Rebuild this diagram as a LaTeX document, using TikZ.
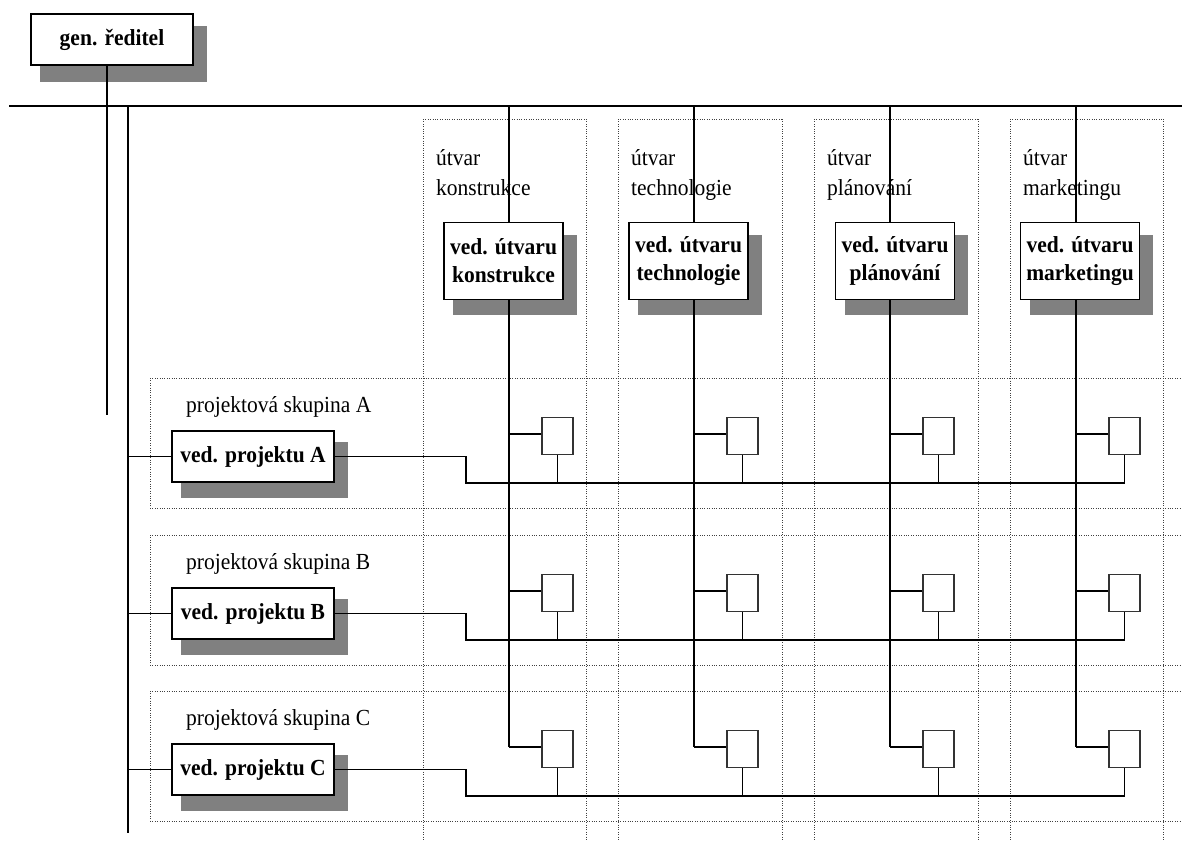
\documentclass[tikz,border=0pt]{standalone}
\usepackage{fontspec}
\setmainfont{Liberation Serif}[FakeStretch=0.935]
\usetikzlibrary{backgrounds}
\begin{document}
\begin{tikzpicture}[x=1pt,y=-1pt,
  box/.style={draw=black, line width=1.6pt, fill=white, inner sep=0pt, align=center,
    font=\bfseries\fontsize{23}{28}\selectfont},
  sqbox/.style={draw=black!80, line width=1.6pt, fill=white, inner sep=0pt,
    minimum width=31pt, minimum height=37pt},
  conn/.style={line width=1.5pt, black},
  dotln/.style={line width=1pt, dash pattern=on 1pt off 1.4pt, black!75},
  lab/.style={anchor=base west, inner sep=0pt, font=\fontsize{23}{30}\selectfont},
  shadowfill/.style={fill=black!50}]
\useasboundingbox (0,0) rectangle (1182,841);

% general director
\node[box, minimum width=162pt, minimum height=51pt] (gen) at (112,39.5) {gen. ředitel};
\coordinate (genx) at (107,415);
\coordinate (hl) at (9,106);
\coordinate (hr) at (1182,106);
\coordinate (spt) at (128,106);
\coordinate (spb) at (128,833);
\coordinate (bot) at (128,841);
\draw[conn] (gen.south -| genx) -- (genx);
\draw[conn] (hl) -- (hr);
\draw[conn] (spt) -- (spb);

% departments
\foreach \c/\L/\bx/\xa/\xb/\nm in {1/509/503.5/423/586/konstrukce,2/694/688.5/618/782/technologie,3/890/895/814/978/plánování,4/1076/1080/1010/1163/marketingu}{
  \node[box, minimum width=119pt, minimum height=77pt] (d\c) at (\bx,261) {ved. útvaru\\\nm};
  \node[lab] (ua\c) at (\xa+13,165) {útvar};
  \node[lab] (ub\c) at (\xa+13,195) {\nm};
  \coordinate (top\c) at (\L,106);
  \coordinate (cl\c) at (\xa,119);
  \coordinate (cq\c) at (\xb,119);
  \draw[conn] (top\c) -- (top\c |- d\c.north);
}

% project groups
\foreach \g/\T in {A/378,B/535,C/691}{
  \node[box, minimum width=162pt, minimum height=51pt] (p\g) at (253,\T+78.5) {ved. projektu \g};
  \node[lab] (pl\g) at (186,\T+34) {projektová skupina \g};
  \coordinate (j\g) at (466,\T+105);
  \coordinate (gt\g) at (150,\T);
  \coordinate (gb\g) at (150,\T+130);
  \foreach \c/\L in {1/509,2/694,3/890,4/1076}{
    \node[sqbox] (s\g\c) at (\L+48.5,\T+58) {};
    \draw[conn] ([yshift=2]s\g\c.west) -- ([yshift=2]s\g\c.west -| top\c);
    \draw[conn] (s\g\c.south) -- (s\g\c.south |- j\g);
  }
  \draw[conn] (p\g.west) -- (p\g.west -| spt);
  \draw[conn] (p\g.east) -| (j\g) -- (j\g -| s\g4.south);
}

% department vertical lines down to group C
\foreach \c in {1,2,3,4}{
  \draw[conn] (d\c.south -| top\c) -- ([yshift=2]sC\c.west -| top\c);
}

\begin{scope}[on background layer]
  % dotted grid
  \foreach \c in {1,2,3,4}{
    \draw[dotln] (cl\c) -- (cl\c |- bot);
    \draw[dotln] (cq\c) -- (cq\c |- bot);
    \draw[dotln] (cl\c) -- (cq\c);
  }
  \foreach \g in {A,B,C}{
    \draw[dotln] (gt\g) -- (gt\g -| hr);
    \draw[dotln] (gb\g) -- (gb\g -| hr);
    \draw[dotln] (gt\g) -- (gb\g);
  }
  % shadows
  \fill[shadowfill] ([shift={(10,13)}]gen.north west) rectangle ([shift={(13,16)}]gen.south east);
  \foreach \c in {1,2,3,4}{
    \fill[shadowfill] ([shift={(10,13)}]d\c.north west) rectangle ([shift={(13,15)}]d\c.south east);
  }
  \foreach \g in {A,B,C}{
    \fill[shadowfill] ([shift={(10,12)}]p\g.north west) rectangle ([shift={(13,15)}]p\g.south east);
  }
\end{scope}
\end{tikzpicture}
\end{document}
